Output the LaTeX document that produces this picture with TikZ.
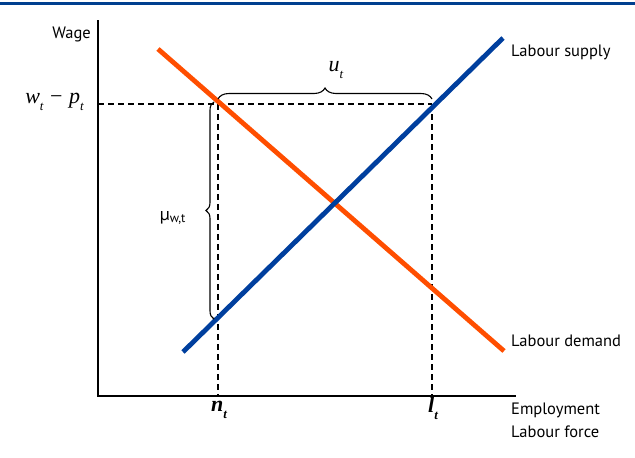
\documentclass[tikz,border=0pt]{standalone}
\usepackage{fontspec}
\setmainfont{PT Sans}
\newfontfamily\mathserif{Liberation Serif}
\usetikzlibrary{decorations.pathreplacing}
\definecolor{supplyblue}{HTML}{003F9E}
\definecolor{demandorange}{HTML}{FF4E00}
\definecolor{barblue}{HTML}{003F8F}
\newcommand{\lowsub}[1]{\raisebox{-0.32em}{\fontsize{13}{14}\selectfont #1}}
\begin{document}
\begin{tikzpicture}[x=1pt,y=-1pt,
  axisline/.style={line width=1.4pt,black},
  guide/.style={line width=1.2pt,black,dash pattern=on 6pt off 4pt},
  curveline/.style={line width=4.8pt},
  lbl/.style={font=\fontsize{16.5}{18}\selectfont,inner sep=0pt,anchor=west},
  mlbl/.style={font=\fontsize{22}{24}\selectfont\mathserif\itshape,inner sep=0pt},
  bracestyle/.style={decorate,line width=1.1pt,decoration={brace,amplitude=#1}}
]
\useasboundingbox (0,0) rectangle (635,458);
\draw[barblue,line width=3pt] (0,3) -- (635,3);
% axes
\coordinate (O) at (98,396);
\coordinate (ytop) at (98,20);
\coordinate (xend) at (516,396);
\draw[axisline] (ytop) -- (O) -- (xend);
% key points
\coordinate (A) at (218,104);
\coordinate (B) at (432,104);
\coordinate (Yw) at (98,104);
\coordinate (An) at (218,396);
\coordinate (Bl) at (432,396);
\draw[guide] (Yw) -- (B);
\draw[guide] (A) -- (An);
\draw[guide] (B) -- (Bl);
% curves
\coordinate (S1) at (183,352);
\coordinate (S2) at (503,38);
\coordinate (D1) at (158,49);
\coordinate (D2) at (504,351);
\draw[curveline,demandorange] (D1) -- (D2);
\draw[curveline,supplyblue] (S1) -- (S2);
% braces
\coordinate (Ub1) at (218,99);
\coordinate (Ub2) at (432,99);
\draw[bracestyle=11pt] (Ub1) -- (Ub2);
\coordinate (Mb1) at (214,319);
\coordinate (Mb2) at (214,102);
\draw[bracestyle=8pt] (Mb1) -- (Mb2);
% labels
\node[lbl,anchor=east] (wage) at (91,34) {Wage};
\node[mlbl,anchor=east] (wp) at (84,102) {w\lowsub{t}\hspace{0.3em}{\upshape−}\hspace{0.3em}p\lowsub{t}};
\node[mlbl] (ut) at (336,70) {u\lowsub{t}};
\node[font=\fontsize{18}{20}\selectfont,inner sep=0pt] (mu) at (173,218) {μ\textsubscript{w,t}};
\node[mlbl,font=\fontsize{22}{24}\selectfont\mathserif\bfseries\itshape] (nt) at (219,410) {n\lowsub{t}};
\node[mlbl,font=\fontsize{22}{24}\selectfont\mathserif\bfseries\itshape] (lt) at (433,408) {l\lowsub{t}};
\node[lbl] (ls) at (511,52) {Labour supply};
\node[lbl] (ld) at (511,341) {Labour demand};
\node[lbl] (emp) at (511,410) {Employment};
\node[lbl] (lf) at (511,432) {Labour force};
\end{tikzpicture}
\end{document}
